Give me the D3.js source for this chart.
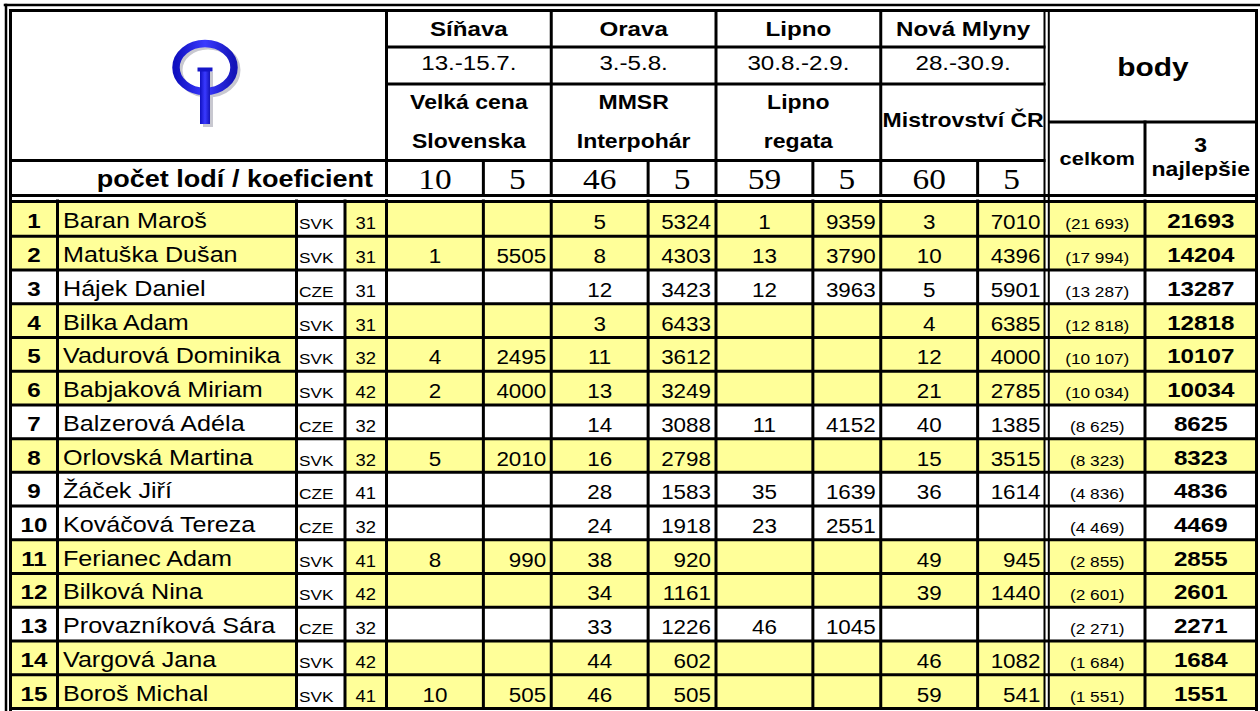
<!DOCTYPE html>
<html>
<head>
<meta charset="utf-8">
<script src="https://cdn.jsdelivr.net/npm/d3@7"></script>
<style>
  body { margin: 0; background: #fff; }
  svg { display: block; font-family: "Liberation Sans", Arial, sans-serif; }
</style>
</head>
<body>
<svg width="1260" height="711"></svg>
<script>
// event header data
const events = ['Síňava', 'Orava', 'Lipno', 'Nová Mlyny'];
const eventDates = ['13.-15.7.', '3.-5.8.', '30.8.-2.9.', '28.-30.9.'];
const eventTitles = [['Velká cena', 'Slovenska'], ['MMSR', 'Interpohár'], ['Lipno', 'regata'], ['Mistrovství ČR']];
const boatCounts = [10, 46, 59, 60];
const coefficients = [5, 5, 5, 5];

// competitors
const ranks = [1, 2, 3, 4, 5, 6, 7, 8, 9, 10, 11, 12, 13, 14, 15];
const names = ['Baran Maroš', 'Matuška Dušan', 'Hájek Daniel', 'Bilka Adam', 'Vadurová Dominika',
    'Babjaková Miriam', 'Balzerová Adéla', 'Orlovská Martina', 'Žáček Jiří', 'Kováčová Tereza',
    'Ferianec Adam', 'Bilková Nina', 'Provazníková Sára', 'Vargová Jana', 'Boroš Michal'];
const countries = ['SVK', 'SVK', 'CZE', 'SVK', 'SVK', 'SVK', 'CZE', 'SVK', 'CZE', 'CZE', 'SVK', 'SVK', 'CZE', 'SVK', 'SVK'];
const sailNumbers = [31, 31, 31, 31, 32, 42, 32, 32, 41, 32, 41, 42, 32, 42, 41];

// placing and points per event (null = did not sail)
const places = [
    [null, 1, null, null, 4, 2, null, 5, null, null, 8, null, null, null, 10],
    [5, 8, 12, 3, 11, 13, 14, 16, 28, 24, 38, 34, 33, 44, 46],
    [1, 13, 12, null, null, null, 11, null, 35, 23, null, null, 46, null, null],
    [3, 10, 5, 4, 12, 21, 40, 15, 36, null, 49, 39, null, 46, 59]
];
const points = [
    [null, 5505, null, null, 2495, 4000, null, 2010, null, null, 990, null, null, null, 505],
    [5324, 4303, 3423, 6433, 3612, 3249, 3088, 2798, 1583, 1918, 920, 1161, 1226, 602, 505],
    [9359, 3790, 3963, null, null, null, 4152, null, 1639, 2551, null, null, 1045, null, null],
    [7010, 4396, 5901, 6385, 4000, 2785, 1385, 3515, 1614, null, 945, 1440, null, 1082, 541]
];
const totals = [21693, 17994, 13287, 12818, 10107, 10034, 8625, 8323, 4836, 4469, 2855, 2601, 2271, 1684, 1551];
const best3 = [21693, 14204, 13287, 12818, 10107, 10034, 8625, 8323, 4836, 4469, 2855, 2601, 2271, 1684, 1551];

const svg = d3.select('svg');
const YELLOW = '#ffff99';
const SX = 1.15; // the source text is slightly stretched horizontally

// column layout
const xRank = [10.5, 57.5], xName = [57.5, 296.5], xCountry = [296.5, 345], xAge = [345, 386.5];
const xCelkom = [1049.5, 1145], xBest = [1145, 1256.5];
const placeShare = 0.588;

const eventX = d3.scaleBand().domain(events).range([386.5, 1045.5]);
const placeCol = e => [eventX(e), eventX(e) + eventX.bandwidth() * placeShare];
const pointsCol = e => [eventX(e) + eventX.bandwidth() * placeShare, eventX(e) + eventX.bandwidth()];

const rowY = d3.scaleBand().domain(ranks).range([202.5, 708.5]);
const baseline = r => rowY(r) + rowY.bandwidth() / 2 + 9;

const rows = ranks.map((r, i) => ({
    rank: r, name: names[i], country: countries[i], sail: sailNumbers[i],
    total: totals[i], best: best3[i], i
}));

const fmtTotal = v => '(' + d3.format(',')(v).replace(/,/g, ' ') + ')';

const label = (g, x, y, s, size, opts = {}) => g.append('text')
    .attr('transform', `translate(${x},${y}) scale(${opts.sx || SX},1)`)
    .attr('text-anchor', opts.anchor || 'middle')
    .attr('font-size', size)
    .attr('font-weight', opts.bold ? 'bold' : 'normal')
    .attr('font-family', opts.family || null)
    .attr('fill', '#000')
    .text(s);

// ---- cell fills ----
const fills = svg.append('g');
rows.forEach(d => {
    const fill = d.country === 'SVK' ? YELLOW : '#fff';
    const spans = [xRank, xName, xAge, xCelkom, xBest];
    events.forEach(e => { spans.push(placeCol(e)); spans.push(pointsCol(e)); });
    spans.forEach(([a, b]) => fills.append('rect')
        .attr('x', a).attr('y', rowY(d.rank))
        .attr('width', b - a).attr('height', rowY.bandwidth())
        .attr('fill', fill));
});

// ---- logo ----
const logo = svg.append('g');
const grad = svg.append('defs').append('linearGradient').attr('id', 'blue')
    .attr('x1', 0).attr('x2', 1).attr('y1', 0).attr('y2', 0);
grad.append('stop').attr('offset', '0%').attr('stop-color', '#1010c0');
grad.append('stop').attr('offset', '50%').attr('stop-color', '#3a3aff');
grad.append('stop').attr('offset', '100%').attr('stop-color', '#1414b8');
logo.append('ellipse').attr('cx', 208).attr('cy', 70).attr('rx', 29).attr('ry', 24)
    .attr('fill', 'none').attr('stroke', '#c8c8d0').attr('stroke-width', 7);
logo.append('rect').attr('x', 203).attr('y', 72).attr('width', 10).attr('height', 55).attr('fill', '#c8c8d0');
logo.append('ellipse').attr('cx', 205).attr('cy', 67.5).attr('rx', 29).attr('ry', 24)
    .attr('fill', 'none').attr('stroke', 'url(#blue)').attr('stroke-width', 7.5);
logo.append('rect').attr('x', 200).attr('y', 69).attr('width', 10).attr('height', 55).attr('fill', 'url(#blue)');
logo.append('rect').attr('x', 197.5).attr('y', 67.5).attr('width', 15).attr('height', 4).attr('fill', '#1515c8');

// ---- header text ----
const head = svg.append('g');
const serif = '"Liberation Serif", "Times New Roman", serif';
events.forEach((e, k) => {
    const cx = eventX(e) + eventX.bandwidth() / 2;
    label(head, cx, 36, e, 21, { bold: true });
    label(head, cx, 70, eventDates[k], 21);
    const t = eventTitles[k];
    if (t.length === 2) {
        label(head, cx, 109, t[0], 20, { bold: true });
        label(head, cx, 148, t[1], 20, { bold: true });
    } else {
        label(head, cx, 127, t[0], 20, { bold: true });
    }
    const [pa, pb] = placeCol(e), [qa, qb] = pointsCol(e);
    label(head, (pa + pb) / 2, 189, boatCounts[k], 29, { family: serif });
    label(head, (qa + qb) / 2, 189, coefficients[k], 29, { family: serif });
});
label(head, 373, 187, 'počet lodí / koeficient', 23.5, { bold: true, anchor: 'end' });
label(head, (xCelkom[0] + xBest[1]) / 2, 76, 'body', 26, { bold: true });
label(head, (xCelkom[0] + xCelkom[1]) / 2, 165, 'celkom', 19, { bold: true });
label(head, (xBest[0] + xBest[1]) / 2, 152, '3', 20, { bold: true });
label(head, (xBest[0] + xBest[1]) / 2, 176, 'najlepšie', 20, { bold: true });

// ---- data text ----
const body = svg.append('g');
rows.forEach(d => {
    const y = baseline(d.rank);
    label(body, (xRank[0] + xRank[1]) / 2, y, d.rank, 21, { bold: true });
    label(body, xName[0] + 5.5, y, d.name, 21.5, { anchor: 'start', sx: 1.17 });
    label(body, xCountry[0] + 2.5, y + 1, d.country, 15, { anchor: 'start' });
    label(body, (xAge[0] + xAge[1]) / 2, y + 1, d.sail, 16);
    events.forEach((e, k) => {
        const p = places[k][d.i], v = points[k][d.i];
        const [pa, pb] = placeCol(e), [, qb] = pointsCol(e);
        if (p != null) label(body, (pa + pb) / 2, y + 1, p, 19.5);
        if (v != null) label(body, qb - 5, y + 1, v, 19.5, { anchor: 'end' });
    });
    label(body, (xCelkom[0] + xCelkom[1]) / 2, y + 1, fmtTotal(d.total), 15);
    label(body, (xBest[0] + xBest[1]) / 2, y, d.best, 21, { bold: true });
});

// ---- grid lines ----
const lines = svg.append('g').attr('stroke', '#000').attr('stroke-linecap', 'square');
const hLine = (y, x1, x2, w = 3) => lines.append('line').attr('x1', x1).attr('x2', x2)
    .attr('y1', y).attr('y2', y).attr('stroke-width', w);
const vLine = (x, y1, y2, w = 3) => lines.append('line').attr('x1', x).attr('x2', x)
    .attr('y1', y1).attr('y2', y2).attr('stroke-width', w);

// outer double frame
hLine(5, 5, 1262, 2.5);
vLine(6, 5, 713, 2.5);
hLine(10.5, 10.5, 1256.5);
vLine(10.5, 10.5, 712);
vLine(1256.5, 10.5, 712);

// header grid
hLine(47, xAge[1], 1044, 3);
hLine(84, xAge[1], 1044, 3);
hLine(160.5, 10.5, 1044, 3);
hLine(122, xCelkom[0], xBest[1], 3);
hLine(195.5, 10.5, 1256.5, 3);
vLine(xAge[1], 10.5, 195.5);
events.forEach(e => {
    vLine(eventX(e), 10.5, 195.5);
    vLine(pointsCol(e)[0], 160.5, 195.5);
});
vLine(xBest[0], 122, 195.5);

// data grid
hLine(rowY.range()[0] - 1, 10.5, 1256.5, 3);
ranks.forEach(r => hLine(rowY(r) + rowY.bandwidth(), 10.5, 1256.5, 3));
[xRank[1], xName[1], xCountry[1], xAge[1]].forEach(x => vLine(x, 201, 708.5));
events.forEach(e => {
    vLine(eventX(e), 201, 708.5);
    vLine(pointsCol(e)[0], 201, 708.5);
});
vLine(xBest[0], 201, 708.5);

// double separator before the points columns
vLine(1044.5, 10.5, 709, 2);
vLine(1048.8, 10.5, 709, 2);
</script>
</body>
</html>
